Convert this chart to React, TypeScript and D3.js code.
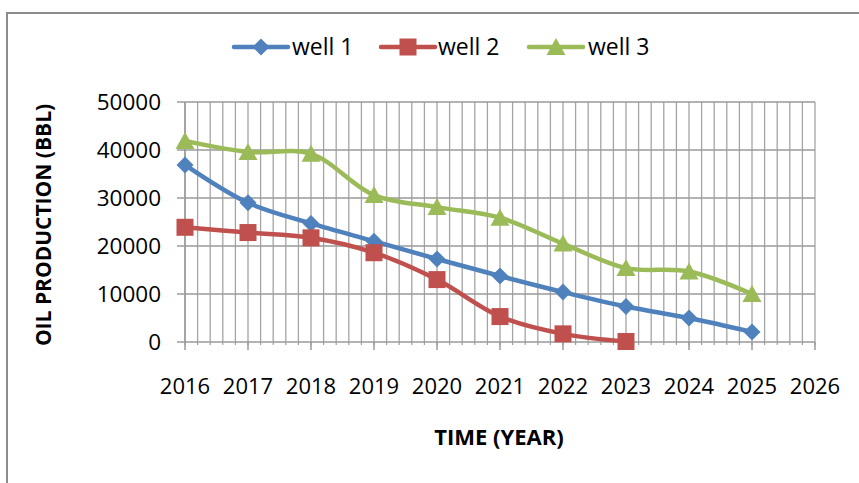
import React from "react";
import * as d3 from "d3";

const years = [2016, 2017, 2018, 2019, 2020, 2021, 2022, 2023, 2024, 2025];
const well1 = [36900, 29000, 24700, 21000, 17300, 13750, 10400, 7400, 5000, 2100];
const well2 = [23900, 22800, 21700, 18600, 13000, 5300, 1700, 100];
const well3 = [41900, 39600, 39200, 30600, 28100, 25900, 20500, 15400, 14700, 10000];
const yTicks = [0, 10000, 20000, 30000, 40000, 50000];
const xTicks = [2016, 2017, 2018, 2019, 2020, 2021, 2022, 2023, 2024, 2025, 2026];
const seriesNames = ["well 1", "well 2", "well 3"];
const colors = ["#4F81BD", "#C0504D", "#9BBB59"];

const W = 859, H = 483;
const m = { left: 185, right: 815, top: 102, bottom: 342 };
const FONT = "'Open Sans', sans-serif";

function Marker({ kind, x, y, color }: { kind: number; x: number; y: number; color: string }) {
  if (kind === 0) {
    const r = 8.5;
    return <path d={`M${x},${y - r}L${x + r},${y}L${x},${y + r}L${x - r},${y}Z`} fill={color} />;
  }
  if (kind === 1) {
    const s = 17;
    return <rect x={x - s / 2} y={y - s / 2} width={s} height={s} fill={color} />;
  }
  const w = 19, h = 16;
  return <path d={`M${x},${y - h / 2 - 1}L${x + w / 2},${y + h / 2}L${x - w / 2},${y + h / 2}Z`} fill={color} />;
}

export default function App() {
  const x = d3.scaleLinear().domain([2016, 2026]).range([m.left, m.right]);
  const y = d3.scaleLinear().domain([0, 50000]).range([m.bottom, m.top]);
  const line = d3
    .line<[number, number]>()
    .x((d) => x(d[0]))
    .y((d) => y(d[1]))
    .curve(d3.curveCatmullRom.alpha(0.5));
  const series = [well1, well2, well3].map((vals) => vals.map((v, i) => [years[i], v] as [number, number]));
  const minor = d3.range(0, 51).map((i) => 2016 + i * 0.2);

  const legendItems = [
    { lx: 234, tx: 292 },
    { lx: 381, tx: 438 },
    { lx: 529, tx: 588 },
  ];

  return (
    <svg width={W} height={H} style={{ position: "absolute", left: 0, top: 0, background: "#fff" }}>
      <rect x={7} y={13} width={900} height={520} fill="#fff" stroke="#8c8c8c" strokeWidth={2} />
      {minor.map((v, i) => (
        <line key={"v" + i} x1={x(v)} x2={x(v)} y1={m.top} y2={m.bottom} stroke="#a4a4a4" strokeWidth={1.3} />
      ))}
      {minor.map((v, i) => (
        <line key={"mt" + i} x1={x(v)} x2={x(v)} y1={m.bottom} y2={m.bottom + 3} stroke="#a0a0a0" strokeWidth={1.2} />
      ))}
      {yTicks.map((t) => (
        <line key={"h" + t} x1={m.left - 8} x2={m.right} y1={y(t)} y2={y(t)} stroke="#9a9a9a" strokeWidth={1.5} />
      ))}
      {xTicks.map((t) => (
        <line key={"xt" + t} x1={x(t)} x2={x(t)} y1={m.bottom} y2={m.bottom + 8} stroke="#9a9a9a" strokeWidth={1.5} />
      ))}
      <line x1={m.left} x2={m.left} y1={m.top} y2={m.bottom} stroke="#9a9a9a" strokeWidth={1.5} />
      {yTicks.map((t) => (
        <text key={"yl" + t} x={161} y={y(t)} dy="0.36em" textAnchor="end" fontFamily={FONT} fontSize={22.5} fill="#000">
          {t}
        </text>
      ))}
      {xTicks.map((t) => (
        <text key={"xl" + t} x={x(t)} y={394} textAnchor="middle" fontFamily={FONT} fontSize={22} fill="#000">
          {t}
        </text>
      ))}
      <text x={499} y={445} textAnchor="middle" fontFamily={FONT} fontSize={22} fontWeight="bold" fill="#000">
        TIME (YEAR)
      </text>
      <text
        transform={`translate(43,${225}) rotate(-90)`}
        textAnchor="middle"
        dy="0.36em"
        fontFamily={FONT}
        fontSize={21}
        fontWeight="bold"
        fill="#000"
      >
        OIL PRODUCTION (BBL)
      </text>
      {series.map((s, k) => (
        <g key={"s" + k}>
          <path d={line(s) || ""} fill="none" stroke={colors[k]} strokeWidth={4.5} strokeLinejoin="round" strokeLinecap="round" />
          {s.map((d, i) => (
            <Marker key={i} kind={k} x={x(d[0])} y={y(d[1])} color={colors[k]} />
          ))}
        </g>
      ))}
      {legendItems.map((it, k) => (
        <g key={"lg" + k}>
          <line x1={it.lx} x2={it.lx + 54} y1={47} y2={47} stroke={colors[k]} strokeWidth={4.5} strokeLinecap="round" />
          <Marker kind={k} x={it.lx + 27} y={47} color={colors[k]} />
          <text x={it.tx} y={47} dy="0.36em" fontFamily={FONT} fontSize={23} fill="#000">
            {seriesNames[k]}
          </text>
        </g>
      ))}
    </svg>
  );
}
